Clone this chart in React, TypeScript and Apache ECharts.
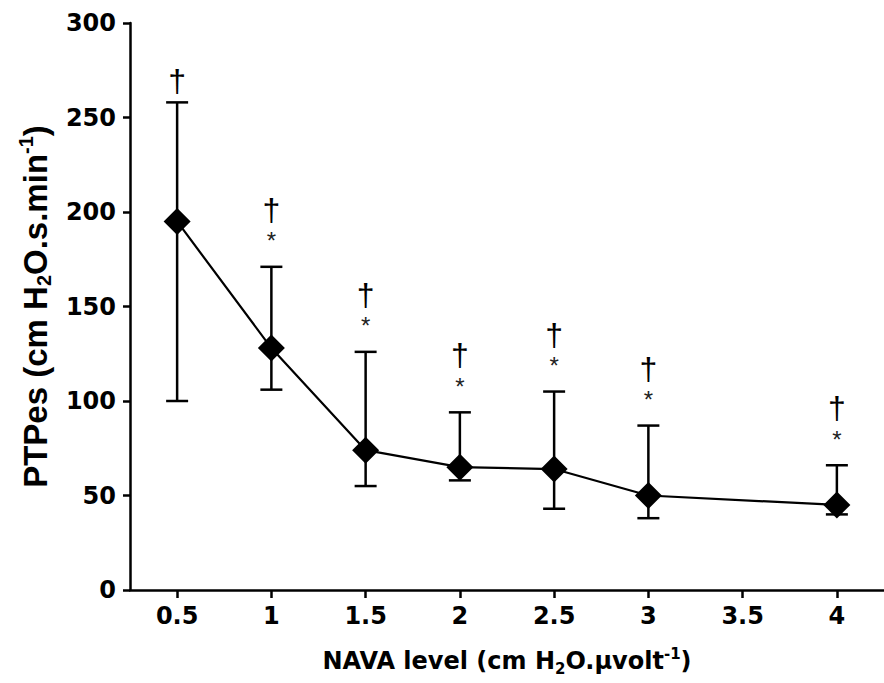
import React, { useEffect, useRef } from "react";
import * as echarts from "echarts";

const navaLevels = [0.5, 1, 1.5, 2, 2.5, 3, 4];
const ptpMean = [195, 128, 74, 65, 64, 50, 45];
const ptpUpper = [258, 171, 126, 94, 105, 87, 66];
const ptpLower = [100, 106, 55, 58, 43, 38, 40];
const daggerMarks = [1, 1, 1, 1, 1, 1, 1];
const starMarks = [0, 1, 1, 1, 1, 1, 1];
const xTickValues = [0.5, 1, 1.5, 2, 2.5, 3, 3.5, 4];

const FONT = "DejaVu Sans, Verdana, sans-serif";
const ARIAL = "Liberation Sans, Arial, Helvetica, sans-serif";

function makeRich(family: string, size: number, small: number, lh: number) {
  const base = {
    fontFamily: family,
    fontWeight: "bold" as const,
    fontSize: size,
    color: "#000",
    lineHeight: lh,
  };
  return {
    n: { ...base },
    sub: { ...base, fontSize: small, lineHeight: small, verticalAlign: "bottom" as const },
    sup: { ...base, fontSize: small, lineHeight: small, verticalAlign: "top" as const },
  };
}

export default function App() {
  const ref = useRef<HTMLDivElement>(null);
  useEffect(() => {
    if (!ref.current) return;
    const chart = echarts.init(ref.current, null, { renderer: "svg" });
    const lineData = navaLevels.map((x, i) => [x, ptpMean[i]]);
    const errData = navaLevels.map((x, i) => [x, ptpLower[i], ptpUpper[i]]);
    const markData = navaLevels.map((x, i) => [x, ptpUpper[i], daggerMarks[i], starMarks[i]]);

    chart.setOption({
      animation: false,
      backgroundColor: "#fff",
      grid: { left: 130, right: 0, top: 23, bottom: 93 },
      xAxis: {
        type: "value",
        min: 0.25,
        max: 4.25,
        name: "{n|NAVA level (cm H}{sub|2}{n|O.μvolt}{sup|-1}{n|)}",
        nameLocation: "middle",
        nameGap: 56,
        nameTextStyle: { rich: makeRich(FONT, 24, 15, 30) },
        axisLine: { show: true, onZero: false, lineStyle: { color: "#000", width: 2.5 } },
        axisTick: {
          show: true,
          length: 8,
          customValues: xTickValues,
          lineStyle: { color: "#000", width: 2.5 },
        },
        axisLabel: {
          customValues: xTickValues,
          margin: 14,
          color: "#000",
          fontFamily: FONT,
          fontWeight: "bold",
          fontSize: 24,
        },
        splitLine: { show: false },
      },
      yAxis: {
        type: "value",
        min: 0,
        max: 300,
        interval: 50,
        name: "{n|PTPes (cm H}{sub|2}{n|O.s.min}{sup|-1}{n|)}",
        nameLocation: "middle",
        nameRotate: 90,
        nameGap: 76,
        nameTextStyle: { rich: makeRich(ARIAL, 33, 20, 38) },
        axisLine: { show: true, lineStyle: { color: "#000", width: 2.5 } },
        axisTick: { show: true, length: 7, lineStyle: { color: "#000", width: 2.5 } },
        axisLabel: {
          margin: 14,
          color: "#000",
          fontFamily: FONT,
          fontWeight: "bold",
          fontSize: 24,
        },
        splitLine: { show: false },
      },
      series: [
        {
          type: "custom",
          name: "err",
          z: 2,
          data: errData,
          renderItem: (params: any, api: any) => {
            const x = api.value(0);
            const pLo = api.coord([x, api.value(1)]);
            const pHi = api.coord([x, api.value(2)]);
            const hw = 11;
            const st = { stroke: "#000", lineWidth: 2.5 };
            return {
              type: "group",
              children: [
                { type: "line", shape: { x1: pLo[0], y1: pLo[1], x2: pHi[0], y2: pHi[1] }, style: st },
                { type: "line", shape: { x1: pHi[0] - hw, y1: pHi[1], x2: pHi[0] + hw, y2: pHi[1] }, style: st },
                { type: "line", shape: { x1: pLo[0] - hw, y1: pLo[1], x2: pLo[0] + hw, y2: pLo[1] }, style: st },
              ],
            };
          },
        },
        {
          type: "line",
          name: "PTPes",
          z: 5,
          data: lineData,
          symbol: "diamond",
          symbolSize: 27,
          itemStyle: { color: "#000" },
          lineStyle: { color: "#000", width: 2.2 },
        },
        {
          type: "custom",
          name: "marks",
          z: 3,
          data: markData,
          renderItem: (params: any, api: any) => {
            const x = api.value(0);
            const p = api.coord([x, api.value(1)]);
            const hasStar = api.value(3) > 0;
            const children: any[] = [];
            if (api.value(2) > 0) {
              children.push({
                type: "text",
                x: p[0],
                y: p[1] - (hasStar ? 57 : 21),
                style: {
                  text: "†",
                  fontFamily: ARIAL,
                  fontSize: 32,
                  fill: "#000",
                  align: "center",
                  verticalAlign: "middle",
                },
              });
            }
            if (hasStar) {
              children.push({
                type: "text",
                x: p[0],
                y: p[1] - 26,
                style: {
                  text: "*",
                  fontFamily: ARIAL,
                  fontSize: 24,
                  fill: "#222",
                  align: "center",
                  verticalAlign: "middle",
                },
              });
            }
            return { type: "group", children };
          },
        },
      ],
    });
    return () => chart.dispose();
  }, []);
  return (
    <div
      ref={ref}
      style={{ position: "absolute", left: 0, top: 0, width: 884, height: 683 }}
    />
  );
}
